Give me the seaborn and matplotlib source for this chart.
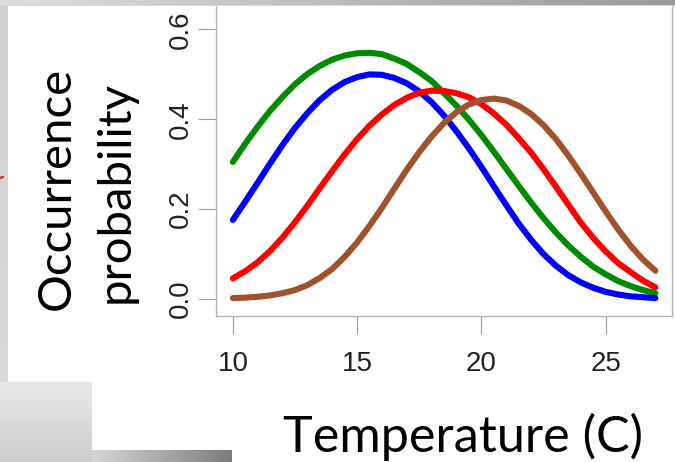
import numpy as np
import pandas as pd
import matplotlib
matplotlib.use("Agg")
import matplotlib.pyplot as plt
import matplotlib.colors as mcolors
import seaborn as sns

# Occurrence probability of four species along a temperature gradient
temperature = [10.0, 10.5, 11.0, 11.5, 12.0, 12.5, 13.0, 13.5, 14.0, 14.5, 15.0, 15.5,
               16.0, 16.5, 17.0, 17.5, 18.0, 18.5, 19.0, 19.5, 20.0, 20.5, 21.0, 21.5,
               22.0, 22.5, 23.0, 23.5, 24.0, 24.5, 25.0, 25.5, 26.0, 26.5, 27.0]
prob_green = [0.305, 0.346, 0.384, 0.419, 0.450, 0.478, 0.501, 0.519, 0.533, 0.542,
              0.547, 0.548, 0.545, 0.535, 0.523, 0.505, 0.485, 0.458, 0.430, 0.399,
              0.365, 0.328, 0.290, 0.252, 0.215, 0.180, 0.148, 0.119, 0.094, 0.072,
              0.055, 0.040, 0.029, 0.020, 0.013]
prob_blue = [0.176, 0.217, 0.259, 0.302, 0.343, 0.381, 0.414, 0.443, 0.466, 0.483,
             0.494, 0.500, 0.499, 0.492, 0.480, 0.462, 0.438, 0.408, 0.373, 0.335,
             0.294, 0.251, 0.209, 0.168, 0.132, 0.100, 0.074, 0.053, 0.037, 0.025,
             0.016, 0.010, 0.006, 0.004, 0.002]
prob_red = [0.046, 0.062, 0.082, 0.107, 0.137, 0.171, 0.208, 0.247, 0.285, 0.322,
            0.356, 0.386, 0.411, 0.432, 0.448, 0.459, 0.464, 0.463, 0.458, 0.449,
            0.434, 0.413, 0.388, 0.358, 0.326, 0.289, 0.250, 0.210, 0.170, 0.136,
            0.106, 0.080, 0.060, 0.041, 0.026]
prob_brown = [0.002, 0.003, 0.005, 0.008, 0.013, 0.020, 0.031, 0.047, 0.067, 0.094,
              0.126, 0.163, 0.203, 0.246, 0.288, 0.327, 0.362, 0.392, 0.416, 0.433,
              0.443, 0.446, 0.442, 0.430, 0.412, 0.387, 0.356, 0.319, 0.279, 0.237,
              0.195, 0.155, 0.119, 0.088, 0.063]

series_names = ["species 1", "species 2", "species 3", "species 4"]
series_colors = ["#008B00", "#0000FF", "#FF0000", "#A0522D"]

x_ticks = [10, 15, 20, 25]
y_ticks = [0.0, 0.2, 0.4, 0.6]
y_tick_labels = ["0.0", "0.2", "0.4", "0.6"]
x_label = "Temperature (C)"
y_label_lines = ["Occurrence", "probability"]

df = pd.concat(
    [pd.DataFrame({"temperature": temperature, "probability": vals, "series": name})
     for name, vals in zip(series_names, [prob_green, prob_blue, prob_red, prob_brown])],
    ignore_index=True,
)

sns.set_theme(style="white")
plt.rcParams["font.family"] = ["Liberation Sans", "DejaVu Sans"]

W, H, DPI = 675, 462, 100
fig = plt.figure(figsize=(W / DPI, H / DPI), dpi=DPI)
fig.patch.set_facecolor("#d8d8d8")

# ---- slide background, drawn in pixel coordinates ----
bg = fig.add_axes([0, 0, 1, 1], zorder=0)
bg.axis("off")


def gradient(ax, x0, x1, y0, y1, c_a, c_b, horizontal=True):
    t = np.linspace(0, 1, 256)[:, None]
    a = np.array(mcolors.to_rgb(c_a))[None, :]
    b = np.array(mcolors.to_rgb(c_b))[None, :]
    img = a * (1 - t) + b * t
    img = img[None, :, :] if horizontal else img[:, None, :]
    ax.imshow(img, extent=(x0, x1, y1, y0), aspect="auto",
              interpolation="bilinear", zorder=0)


gradient(bg, 0, W, 0, 5.5, "#dedede", "#9a9a9a")
gradient(bg, 0, 7.5, 5, 382, "#d0d0d0", "#dadada", horizontal=False)
gradient(bg, 0, 92, 382, H, "#e8e8e8", "#cdcdcd", horizontal=False)
gradient(bg, 92, 232, 450, H, "#d6d6d6", "#7c7c7c")
white_area = plt.Polygon(
    [(7.5, 5.5), (W, 5.5), (W, H), (232, H), (232, 450), (92, 450), (92, 382), (7.5, 382)],
    closed=True, facecolor="white", edgecolor="none", zorder=1)
bg.add_patch(white_area)
bg.plot([0, 3.0], [178, 177], color="#e02020", lw=1.6, zorder=2)
bg.set_xlim(0, W)
bg.set_ylim(H, 0)

# ---- curve panel ----
ax_left, ax_right, ax_top, ax_bottom = 216, 671.5, 5.5, 316
ax = fig.add_axes([ax_left / W, (H - ax_bottom) / H,
                   (ax_right - ax_left) / W, (ax_bottom - ax_top) / H], zorder=2)
ax.set_facecolor("white")

sns.lineplot(data=df, x="temperature", y="probability", hue="series",
             hue_order=series_names, palette=dict(zip(series_names, series_colors)),
             linewidth=4.4, legend=False, ax=ax, estimator=None, sort=False,
             solid_capstyle="round", solid_joinstyle="round")

ax.set_xlim(9.32, 27.65)
ax.set_ylim(-0.0378, 0.6533)
ax.set_xticks(x_ticks)
ax.set_xticklabels([str(v) for v in x_ticks])
ax.set_yticks(y_ticks)
ax.set_yticklabels(y_tick_labels)
ax.set_xlabel("")
ax.set_ylabel("")

ax.tick_params(axis="both", direction="out", length=13, width=0.8, color="#9c9c9c",
               labelsize=20, labelcolor="#222222", bottom=True, left=True)
ax.tick_params(axis="x", pad=12)
ax.tick_params(axis="y", pad=3)
for lbl in ax.get_yticklabels():
    lbl.set_rotation(90)
    lbl.set_va("center")

ax.spines["top"].set_visible(False)
for side in ["left", "right", "bottom"]:
    ax.spines[side].set_color("#b4b4b4")
    ax.spines[side].set_linewidth(1.0)

# ---- axis titles ----
fig.text(462.5 / W, 1 - 451.7 / H, x_label, ha="center", va="baseline",
         family=["Lato", "DejaVu Sans"], size=36.3, color="black")
fig.text(70 / W, 1 - 188.5 / H, y_label_lines[0], rotation=90, rotation_mode="anchor",
         ha="center", va="baseline", family=["Lato", "DejaVu Sans"], size=34, color="black")
fig.text(128.5 / W, 1 - 192 / H, y_label_lines[1], rotation=90, rotation_mode="anchor",
         ha="center", va="baseline", family=["Lato", "DejaVu Sans"], size=34, color="black")

fig.savefig("out.png", dpi=DPI)
